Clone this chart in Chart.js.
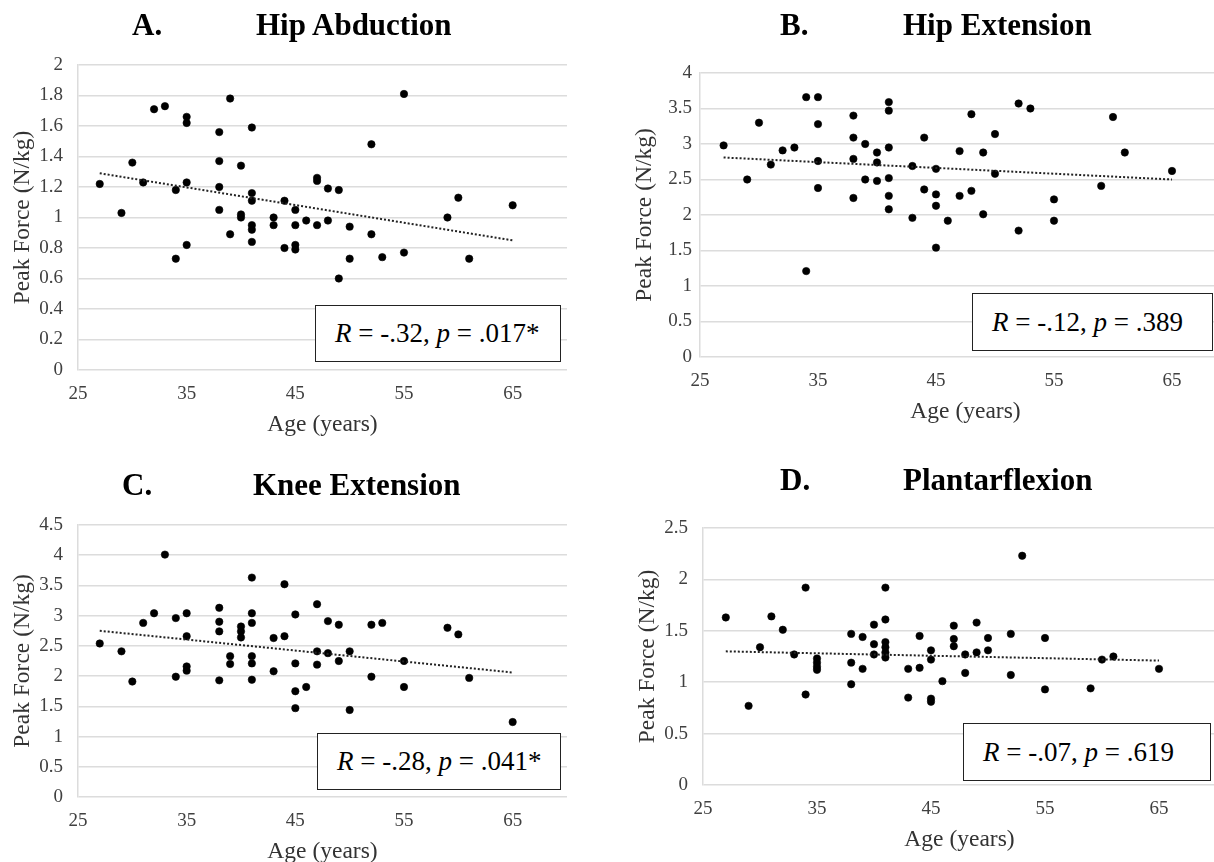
<!DOCTYPE html>
<html>
<head>
<meta charset="utf-8">
<title>Peak force vs age</title>
<script src="https://cdn.jsdelivr.net/npm/chart.js@4.4.1/dist/chart.umd.min.js"></script>
<style>
    html, body { margin: 0; padding: 0; background: #fff; overflow: hidden; }
    body { width: 1214px; height: 862px; position: relative; font-family: 'Liberation Serif', 'Times New Roman', serif; }
    canvas { position: absolute; }
    .title { position: absolute; font-weight: bold; font-size: 31px; line-height: 1; color: #000; white-space: nowrap; }
    .stat { position: absolute; box-sizing: border-box; border: 1.5px solid #222; display: flex; align-items: center;
            padding-left: 19px; font-size: 27px; color: #000; white-space: nowrap; background: #fff; }
</style>
</head>
<body>
<canvas id="abductionChart"></canvas>
<canvas id="extensionChart"></canvas>
<canvas id="kneeChart"></canvas>
<canvas id="plantarChart"></canvas>

<div class="title" style="left:132px; top:9px;">A.</div>
<div class="title" style="left:256px; top:9px;">Hip Abduction</div>
<div class="title" style="left:780px; top:9px;">B.</div>
<div class="title" style="left:903px; top:9px;">Hip Extension</div>
<div class="title" style="left:122px; top:469px;">C.</div>
<div class="title" style="left:253px; top:469px;">Knee Extension</div>
<div class="title" style="left:780px; top:464px;">D.</div>
<div class="title" style="left:903px; top:464px;">Plantarflexion</div>

<div class="stat" style="left:315px; top:305px; width:246px; height:57px;"><span><i>R</i> = -.32, <i>p</i> = .017*</span></div>
<div class="stat" style="left:972px; top:293px; width:241px; height:58px;"><span><i>R</i> = -.12, <i>p</i> = .389</span></div>
<div class="stat" style="left:317px; top:733px; width:244px; height:57px;"><span><i>R</i> = -.28, <i>p</i> = .041*</span></div>
<div class="stat" style="left:963px; top:723px; width:248px; height:58px;"><span><i>R</i> = -.07, <i>p</i> = .619</span></div>

<script>
const xTicks = [25, 35, 45, 55, 65];
const trendAges = [27, 65];

// A. Hip Abduction
const abductionAges = [27, 29, 30, 31, 32, 33, 34, 34, 35, 35, 35, 35, 38, 38, 38, 38, 39, 39, 40, 40, 40,
    41, 41, 41, 41, 41, 41, 43, 43, 44, 44, 45, 45, 45, 45, 46, 47, 47, 47, 48, 48, 49, 49, 50, 50,
    52, 52, 53, 55, 55, 59, 60, 61, 65];
const abductionForce = [1.22, 1.03, 1.36, 1.23, 1.71, 1.73, 1.18, 0.73, 1.66, 1.62, 1.23, 0.82, 1.56, 1.37, 1.20, 1.05, 1.78, 0.89, 1.34, 1.02, 1.00,
    1.59, 1.16, 1.11, 0.95, 0.92, 0.84, 1.00, 0.95, 1.11, 0.80, 1.05, 0.95, 0.82, 0.79, 0.98, 1.26, 1.24, 0.95, 1.19, 0.98, 1.18, 0.60, 0.94, 0.73,
    1.48, 0.89, 0.74, 1.81, 0.77, 1.00, 1.13, 0.73, 1.08];
const abductionTrend = [1.29, 0.85];

// B. Hip Extension
const extensionAges = [27, 29, 30, 31, 32, 33, 34, 34, 35, 35, 35, 35, 38, 38, 38, 38, 39, 39, 40, 40, 40,
    41, 41, 41, 41, 41, 41, 43, 43, 44, 44, 45, 45, 45, 45, 46, 47, 47, 48, 48, 49, 49, 50, 50,
    52, 52, 53, 55, 55, 59, 60, 61, 65];
const extensionForce = [2.98, 2.50, 3.30, 2.71, 2.91, 2.95, 3.66, 1.21, 3.66, 3.28, 2.76, 2.38, 3.40, 3.09, 2.79, 2.24, 3.00, 2.50, 2.88, 2.74, 2.48,
    3.59, 3.47, 2.95, 2.52, 2.27, 2.08, 2.69, 1.96, 3.09, 2.36, 2.65, 2.29, 2.13, 1.54, 1.92, 2.90, 2.27, 3.42, 2.34, 2.88, 2.01, 3.14, 2.58,
    3.57, 1.78, 3.50, 2.22, 1.92, 2.41, 3.38, 2.88, 2.62];
const extensionTrend = [2.81, 2.50];

// C. Knee Extension
const kneeAges = [27, 29, 30, 31, 32, 33, 34, 34, 35, 35, 35, 35, 38, 38, 38, 38, 39, 39, 40, 40, 40,
    41, 41, 41, 41, 41, 41, 43, 43, 44, 44, 45, 45, 45, 45, 46, 47, 47, 47, 48, 48, 49, 49, 50, 50,
    52, 52, 53, 55, 55, 59, 60, 61, 65];
const kneeForce = [2.54, 2.41, 1.91, 2.88, 3.04, 4.01, 2.96, 1.99, 3.04, 2.66, 2.16, 2.09, 3.13, 2.90, 2.74, 1.93, 2.33, 2.20, 2.82, 2.74, 2.64,
    3.63, 3.04, 2.88, 2.33, 2.21, 1.94, 2.63, 2.08, 3.52, 2.66, 3.02, 2.21, 1.75, 1.47, 1.82, 3.19, 2.41, 2.19, 2.91, 2.38, 2.85, 2.25, 2.41, 1.44,
    2.85, 1.99, 2.88, 2.25, 1.82, 2.80, 2.69, 1.97, 1.24];
const kneeTrend = [2.75, 2.06];

// D. Plantarflexion
const plantarAges = [27, 29, 30, 31, 32, 33, 34, 34, 35, 35, 35, 35, 38, 38, 38, 39, 39, 40, 40, 40,
    41, 41, 41, 41, 41, 41, 43, 43, 44, 44, 45, 45, 45, 45, 46, 47, 47, 47, 48, 48, 49, 49, 50, 50,
    52, 52, 53, 55, 55, 59, 60, 61, 65];
const plantarForce = [1.63, 0.77, 1.34, 1.64, 1.51, 1.27, 1.92, 0.88, 1.23, 1.19, 1.15, 1.12, 1.47, 1.19, 0.98, 1.44, 1.13, 1.56, 1.37, 1.27,
    1.92, 1.61, 1.39, 1.34, 1.29, 1.24, 1.13, 0.85, 1.45, 1.14, 1.31, 1.22, 0.84, 0.81, 1.01, 1.55, 1.42, 1.35, 1.27, 1.09, 1.58, 1.29, 1.43, 1.31,
    1.47, 1.07, 2.23, 1.43, 0.93, 0.94, 1.22, 1.25, 1.13];
const plantarTrend = [1.30, 1.21];

const serif = "'Liberation Serif', 'Times New Roman', serif";
const gridColor = '#dcdcdc';
const tickColor = '#404040';
const axisTitleColor = '#333';

const toPoints = (xs, ys) => xs.map((x, i) => ({ x, y: ys[i] }));

function renderPanel(canvasId, box, plot, yMax, yStep, ages, force, trend, tickPad) {
    const canvas = document.getElementById(canvasId);
    canvas.width = box.w;
    canvas.height = plot.bottom - box.y + 72;
    canvas.style.left = box.x + 'px';
    canvas.style.top = box.y + 'px';

    const yAxisWidth = 70;
    const xAxisHeight = 72;

    return new Chart(canvas.getContext('2d'), {
        type: 'scatter',
        data: {
            datasets: [
                {
                    // dotted linear trendline, drawn over the points
                    type: 'line',
                    data: toPoints(trendAges, trend),
                    borderColor: '#222',
                    borderWidth: 2,
                    borderDash: [2, 2],
                    pointRadius: 0,
                    fill: false,
                    order: 0
                },
                {
                    data: toPoints(ages, force),
                    backgroundColor: '#000',
                    borderColor: '#000',
                    pointRadius: 3.7,
                    pointBorderWidth: 0.6,
                    order: 1
                }
            ]
        },
        options: {
            responsive: false,
            animation: false,
            devicePixelRatio: 1,
            events: [],
            layout: {
                padding: {
                    left: plot.left - box.x - yAxisWidth,
                    top: plot.top - box.y,
                    right: box.x + box.w - plot.right,
                    bottom: 0
                }
            },
            plugins: {
                legend: { display: false },
                tooltip: { enabled: false }
            },
            scales: {
                x: {
                    type: 'linear',
                    min: 25,
                    max: 70,
                    afterBuildTicks: (scale) => { scale.ticks = xTicks.map(v => ({ value: v })); },
                    afterFit: (scale) => { scale.height = xAxisHeight; },
                    grid: { display: false, drawTicks: false },
                    border: { display: false },
                    ticks: { font: { family: serif, size: 19 }, color: tickColor, padding: 13, maxRotation: 0, autoSkip: false },
                    title: {
                        display: true,
                        text: 'Age (years)',
                        font: { family: serif, size: 23.5 },
                        color: axisTitleColor,
                        padding: { top: 0, bottom: 3 }
                    }
                },
                y: {
                    min: 0,
                    max: yMax,
                    afterFit: (scale) => { scale.width = yAxisWidth; },
                    grid: { color: gridColor, lineWidth: 1.5, drawTicks: false },
                    border: { display: true, color: gridColor, width: 1.5 },
                    ticks: {
                        stepSize: yStep,
                        font: { family: serif, size: 19 },
                        color: tickColor,
                        padding: tickPad,
                        callback: (v) => String(+v.toFixed(2))
                    },
                    title: {
                        display: true,
                        text: 'Peak Force (N/kg)',
                        font: { family: serif, size: 23.5 },
                        color: axisTitleColor,
                        padding: { top: 1, bottom: 0 }
                    }
                }
            }
        }
    });
}

renderPanel('abductionChart', { x: 0, y: 0, w: 607 }, { left: 78, top: 65, right: 567, bottom: 370 },
    2, 0.2, abductionAges, abductionForce, abductionTrend, 15);
renderPanel('extensionChart', { x: 607, y: 0, w: 644 }, { left: 700, top: 73, right: 1231, bottom: 357 },
    4, 0.5, extensionAges, extensionForce, extensionTrend, 8);
renderPanel('kneeChart', { x: 0, y: 450, w: 607 }, { left: 78, top: 525, right: 567, bottom: 797 },
    4.5, 0.5, kneeAges, kneeForce, kneeTrend, 15);
renderPanel('plantarChart', { x: 607, y: 450, w: 644 }, { left: 703, top: 528, right: 1216, bottom: 785 },
    2.5, 0.5, plantarAges, plantarForce, plantarTrend, 15);
</script>
</body>
</html>
